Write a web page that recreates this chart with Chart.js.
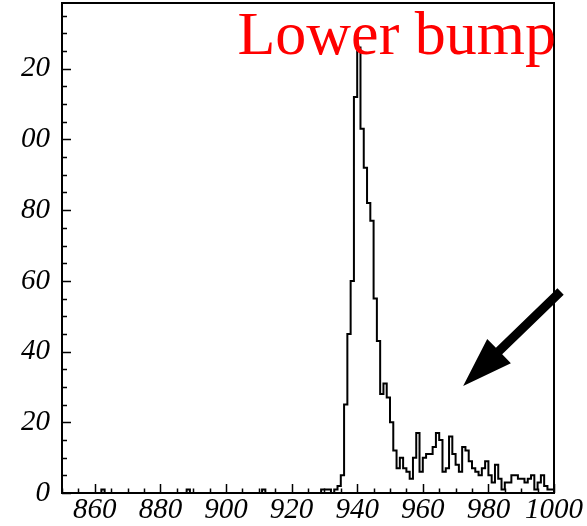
<!DOCTYPE html>
<html>
<head>
<meta charset="utf-8">
<script src="https://cdn.jsdelivr.net/npm/chart.js@4.4.1/dist/chart.umd.min.js"></script>
<style>
    html, body { margin: 0; padding: 0; background: #fff; }
    #wrap { width: 587px; height: 526px; }
</style>
</head>
<body>
<div id="wrap"><canvas id="histChart" width="587" height="526"></canvas></div>
<script>
// Histogram: 1-unit bins from 850 to 1000
const binStart = 850;
const binWidth = 1;
const counts = [
    0, 0, 0, 0, 0, 0, 0, 0, 0, 0,          // 850
    0, 0, 0, 1, 0, 0, 0, 0, 0, 0,          // 860
    0, 0, 0, 0, 0, 0, 0, 0, 0, 0,          // 870
    0, 0, 0, 0, 0, 0, 0, 0, 0, 1,          // 880
    0, 0, 0, 0, 0, 0, 0, 0, 0, 0,          // 890
    0, 0, 0, 0, 0, 0, 0, 0, 0, 0,          // 900
    0, 0, 1, 0, 0, 0, 0, 0, 0, 0,          // 910
    0, 0, 0, 0, 0, 0, 0, 0, 0, 0,          // 920
    1, 1, 1, 0, 1, 2, 5, 25, 45, 60,       // 930
    112, 126, 103, 92, 82, 77, 55, 43, 28, 31, // 940
    27, 20, 12, 7, 10, 7, 6, 4, 10, 17,    // 950
    6, 10, 11, 11, 13, 17, 15, 6, 7, 16,   // 960
    11, 8, 6, 13, 12, 9, 7, 6, 5, 7,       // 970
    9, 5, 3, 8, 4, 1, 3, 3, 5, 5,          // 980
    4, 4, 3, 4, 5, 1, 3, 5, 2, 1           // 990
];

// Axis ranges and tick labels
const xRange = [850, 1000];
const yRange = [0, 138.6];
const xTickValues = [860, 880, 900, 920, 940, 960, 980, 1000];
const xTickLabels = ['860', '880', '900', '920', '940', '960', '980', '1000'];
const yTickValues = [0, 20, 40, 60, 80, 100, 120];
const yTickLabels = ['0', '20', '40', '60', '80', '00', '20'];
const xMinorStep = 5;
const yMinorStep = 5;

// Annotation
const titleText = 'Lower bump';
const arrowTail = { x: 1002, y: 57 };
const arrowTip = { x: 972.3, y: 30.3 };

const tickFont = { family: '"Liberation Serif", "Times New Roman", serif', style: 'italic', size: 29 };

function stepsBetween(lo, hi, step) {
    const out = [];
    for (let v = lo; v <= hi + 1e-9; v += step) out.push({ value: v });
    return out;
}

// points at bin lower edges, plus the closing upper edge
const histPoints = counts.map(function(c, i) {
    return { x: binStart + i * binWidth, y: c };
});
histPoints.push({ x: binStart + counts.length * binWidth, y: counts[counts.length - 1] });

const rootFrame = {
    id: 'rootFrame',
    afterDatasetsDraw: function(chart) {
        const ctx = chart.ctx;
        const area = chart.chartArea;
        const xs = chart.scales.x;
        const ys = chart.scales.y;
        ctx.save();
        ctx.strokeStyle = '#000';
        ctx.lineWidth = 1.5;
        // inner tick marks
        ctx.beginPath();
        xs.ticks.forEach(function(t) {
            const px = Math.round(xs.getPixelForValue(t.value)) + 0.5;
            const len = xTickValues.indexOf(t.value) >= 0 ? 9 : 4.5;
            ctx.moveTo(px, area.bottom);
            ctx.lineTo(px, area.bottom - len);
        });
        ys.ticks.forEach(function(t) {
            const py = Math.round(ys.getPixelForValue(t.value)) + 0.5;
            const len = yTickValues.indexOf(t.value) >= 0 ? 9 : 5;
            ctx.moveTo(area.left, py);
            ctx.lineTo(area.left + len, py);
        });
        ctx.stroke();
        // frame
        ctx.lineWidth = 2;
        ctx.strokeRect(area.left, area.top, area.right - area.left, area.bottom - area.top);
        ctx.restore();
    },
    afterDraw: function(chart) {
        const ctx = chart.ctx;
        const area = chart.chartArea;
        const xs = chart.scales.x;
        const ys = chart.scales.y;
        ctx.save();
        // title
        ctx.font = '62px "Liberation Serif", "Times New Roman", serif';
        ctx.fillStyle = '#ff0000';
        ctx.textAlign = 'right';
        ctx.textBaseline = 'alphabetic';
        ctx.fillText(titleText, area.right + 2, area.top + 51);
        // arrow
        const tx = xs.getPixelForValue(arrowTail.x), ty = ys.getPixelForValue(arrowTail.y);
        const hx = xs.getPixelForValue(arrowTip.x), hy = ys.getPixelForValue(arrowTip.y);
        const len = Math.hypot(hx - tx, hy - ty);
        const ux = (hx - tx) / len, uy = (hy - ty) / len;
        const nx = -uy, ny = ux;
        const headLen = 50, headHalf = 17, shaftHalf = 4.5;
        const bx = hx - ux * headLen, by = hy - uy * headLen;
        ctx.fillStyle = '#000';
        ctx.beginPath();
        ctx.moveTo(tx + nx * shaftHalf, ty + ny * shaftHalf);
        ctx.lineTo(bx + nx * shaftHalf, by + ny * shaftHalf);
        ctx.lineTo(bx + nx * headHalf, by + ny * headHalf);
        ctx.lineTo(hx, hy);
        ctx.lineTo(bx - nx * headHalf, by - ny * headHalf);
        ctx.lineTo(bx - nx * shaftHalf, by - ny * shaftHalf);
        ctx.lineTo(tx - nx * shaftHalf, ty - ny * shaftHalf);
        ctx.closePath();
        ctx.fill();
        ctx.restore();
    }
};

document.addEventListener('DOMContentLoaded', function() {
    const ctx = document.getElementById('histChart').getContext('2d');
    new Chart(ctx, {
        type: 'line',
        data: {
            datasets: [{
                data: histPoints,
                stepped: 'after',
                borderColor: '#000',
                borderWidth: 2,
                pointRadius: 0,
                fill: false
            }]
        },
        options: {
            responsive: false,
            devicePixelRatio: 1,
            animation: false,
            layout: { padding: { top: 3, right: 33, left: 0, bottom: 0 } },
            plugins: {
                legend: { display: false },
                tooltip: { enabled: false },
                title: { display: false }
            },
            scales: {
                x: {
                    type: 'linear',
                    min: xRange[0],
                    max: xRange[1],
                    grid: { display: false, drawTicks: false },
                    border: { display: false },
                    afterBuildTicks: function(scale) {
                        scale.ticks = stepsBetween(xRange[0], xRange[1], xMinorStep);
                    },
                    afterFit: function(scale) {
                        scale.height = 33;
                        scale.paddingLeft = 0;
                        scale.paddingRight = 0;
                    },
                    ticks: {
                        autoSkip: false,
                        maxRotation: 0,
                        padding: 0,
                        color: '#000',
                        font: tickFont,
                        callback: function(value) {
                            const i = xTickValues.indexOf(value);
                            return i >= 0 ? xTickLabels[i] : '';
                        }
                    }
                },
                y: {
                    type: 'linear',
                    min: yRange[0],
                    max: yRange[1],
                    grid: { display: false, drawTicks: false },
                    border: { display: false },
                    afterBuildTicks: function(scale) {
                        scale.ticks = stepsBetween(yRange[0], 135, yMinorStep);
                    },
                    afterFit: function(scale) {
                        scale.width = 62;
                        scale.paddingTop = 0;
                        scale.paddingBottom = 0;
                    },
                    ticks: {
                        autoSkip: false,
                        padding: 12,
                        color: '#000',
                        font: tickFont,
                        callback: function(value) {
                            const i = yTickValues.indexOf(value);
                            return i >= 0 ? yTickLabels[i] : '';
                        }
                    }
                }
            }
        },
        plugins: [rootFrame]
    });
});
</script>
</body>
</html>
